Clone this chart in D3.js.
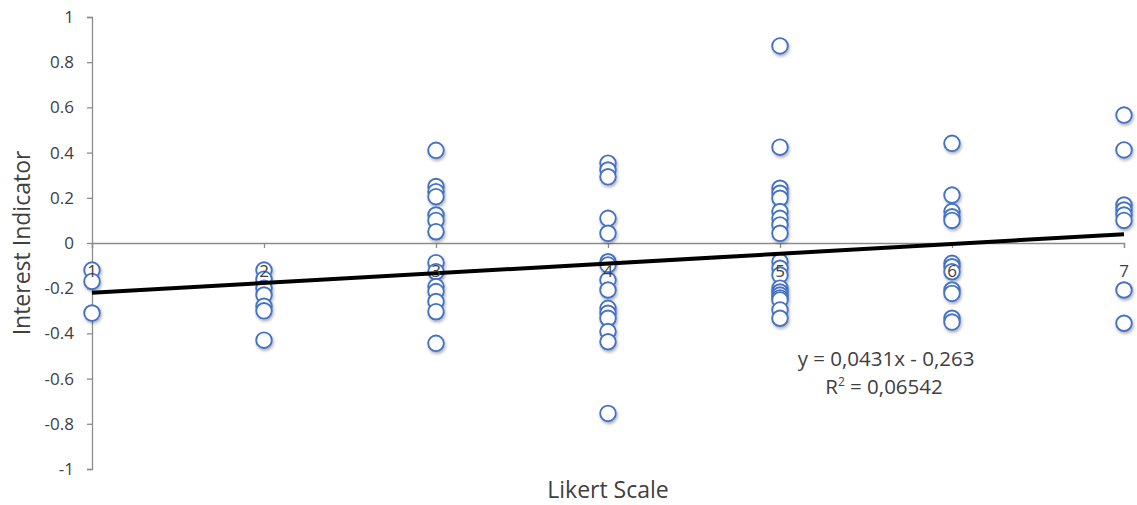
<!DOCTYPE html>
<html>
<head>
<meta charset="utf-8">
<script src="https://cdn.jsdelivr.net/npm/d3@7"></script>
<style>
  html, body { margin: 0; padding: 0; background: #fff; }
  svg { display: block; }
  text { font-family: "Open Sans", "Noto Sans", sans-serif; fill: #404040; }
</style>
</head>
<body>
<div id="chart"></div>
<script>
// ---- Data ----
const likert1 = [-0.12, -0.17, -0.31];
const likert2 = [-0.12, -0.16, -0.20, -0.23, -0.28, -0.30, -0.43];
const likert3 = [0.41, 0.25, 0.227, 0.205, 0.124, 0.10, 0.05, -0.087, -0.127, -0.193, -0.215, -0.259, -0.304, -0.444];
const likert4 = [0.353, 0.323, 0.293, 0.109, 0.043, -0.083, -0.097, -0.164, -0.208, -0.289, -0.311, -0.333, -0.392, -0.437, -0.754];
const likert5 = [0.872, 0.424, 0.242, 0.22, 0.198, 0.139, 0.109, 0.08, 0.043, -0.083, -0.112, -0.142, -0.2, -0.217, -0.23, -0.243, -0.252, -0.296, -0.333];
const likert6 = [0.441, 0.212, 0.139, 0.116, 0.10, -0.09, -0.105, -0.127, -0.208, -0.223, -0.333, -0.35];
const likert7 = [0.566, 0.412, 0.168, 0.146, 0.124, 0.10, -0.208, -0.355];
const seriesByLikert = [likert1, likert2, likert3, likert4, likert5, likert6, likert7];

const xTicks = [1, 2, 3, 4, 5, 6, 7];
const yTicks = [-1, -0.8, -0.6, -0.4, -0.2, 0, 0.2, 0.4, 0.6, 0.8, 1];
const yTickLabels = ["-1", "-0.8", "-0.6", "-0.4", "-0.2", "0", "0.2", "0.4", "0.6", "0.8", "1"];

const trendSlope = 0.0431;
const trendIntercept = -0.263;
const equationLabel = "y = 0,0431x - 0,263";
const r2Value = "0,06542";

const xTitle = "Likert Scale";
const yTitle = "Interest Indicator";

// ---- Layout ----
const W = 1137, H = 505;
const x = d3.scaleLinear().domain([1, 7]).range([92, 1124]);
const y = d3.scaleLinear().domain([-1, 1]).range([469, 17]);

const svg = d3.select("#chart").append("svg").attr("width", W).attr("height", H);

const defs = svg.append("defs");
const f = defs.append("filter").attr("id", "shadow").attr("x", "-50%").attr("y", "-50%").attr("width", "200%").attr("height", "200%");
f.append("feDropShadow").attr("dx", 1).attr("dy", 2).attr("stdDeviation", 1.6)
  .attr("flood-color", "#000").attr("flood-opacity", 0.3);

const axisColor = "#8c8c8c";
const fontFam = '"Open Sans", "Noto Sans", sans-serif';

// Y axis
const yAxis = svg.append("g").attr("transform", `translate(${x(1)},0)`)
  .call(d3.axisLeft(y).tickValues(yTicks).tickSize(5).tickPadding(13)
    .tickFormat((d, i) => yTickLabels[i]));
yAxis.select(".domain").attr("stroke", axisColor).attr("stroke-width", 1.3);
yAxis.selectAll(".tick line").attr("stroke", axisColor).attr("stroke-width", 1.3);
yAxis.selectAll(".tick text").attr("font-size", 17).attr("fill", "#404040")
  .style("font-family", fontFam);

// X axis (crosses at y = 0)
const xAxis = svg.append("g").attr("transform", `translate(0,${y(0)})`)
  .call(d3.axisBottom(x).tickValues(xTicks).tickSize(5).tickFormat(d3.format("d")));
xAxis.select(".domain").attr("stroke", axisColor).attr("stroke-width", 1.3);
xAxis.selectAll(".tick line").attr("stroke", axisColor).attr("stroke-width", 1.3);
xAxis.selectAll(".tick text").remove();

// Points
const points = [];
seriesByLikert.forEach((vals, i) => vals.forEach(v => points.push({ x: xTicks[i], y: v })));
svg.append("g").attr("filter", "url(#shadow)")
  .selectAll("circle").data(points).join("circle")
  .attr("cx", d => x(d.x)).attr("cy", d => y(d.y)).attr("r", 7.8)
  .attr("fill", "#fff").attr("stroke", "#4472C4").attr("stroke-width", 1.9);

// Trendline
svg.append("line")
  .attr("x1", x(1)).attr("y1", y(trendSlope * 1 + trendIntercept))
  .attr("x2", x(7)).attr("y2", y(trendSlope * 7 + trendIntercept))
  .attr("stroke", "#000").attr("stroke-width", 4);

// X tick labels (drawn on top)
svg.append("g").selectAll("text").data(xTicks).join("text")
  .attr("x", d => x(d)).attr("y", y(0) + 34)
  .attr("text-anchor", "middle").attr("font-size", 17).attr("fill", "#404040")
  .text(d => d);

// Trend equation
const eq = svg.append("g");
eq.append("text").attr("x", 886).attr("y", 366).attr("text-anchor", "middle")
  .attr("font-size", 20.5).attr("fill", "#404040").text(equationLabel);
const r2 = eq.append("text").attr("x", 884).attr("y", 394).attr("text-anchor", "middle")
  .attr("font-size", 20.5).attr("fill", "#404040");
r2.append("tspan").text("R");
r2.append("tspan").attr("dy", -8).attr("font-size", 12).text("2");
r2.append("tspan").attr("dy", 8).text(" = " + r2Value);

// Axis titles
svg.append("text").attr("x", (x(1) + x(7)) / 2).attr("y", 498).attr("text-anchor", "middle")
  .attr("font-size", 23).attr("fill", "#404040").text(xTitle);
svg.append("text").attr("transform", `translate(30,${y(0)}) rotate(-90)`)
  .attr("text-anchor", "middle").attr("font-size", 23).attr("fill", "#404040").text(yTitle);
</script>
</body>
</html>
